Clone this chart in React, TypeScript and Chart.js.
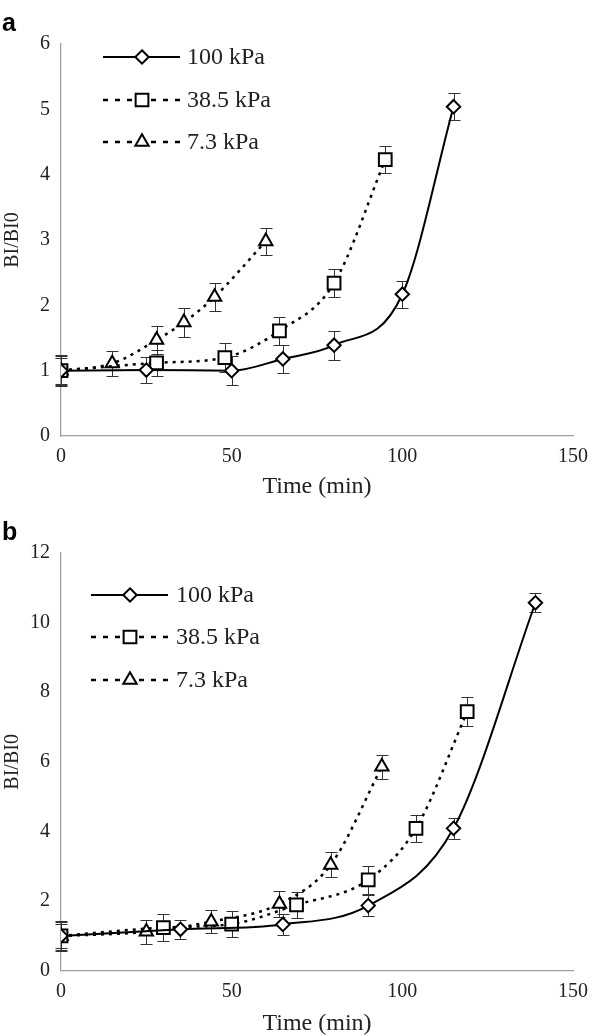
import React, { useEffect, useRef } from 'react';
import { Chart, registerables } from 'chart.js';

Chart.register(...registerables);

// ---------- data ----------
const seriesLabels = ['100 kPa', '38.5 kPa', '7.3 kPa'];
const xAxisTitle = 'Time (min)';
const yAxisTitle = 'BI/BI0';

// Panel a
const a100Time = [0, 25, 50, 65, 80, 100, 115];
const a100Value = [1.0, 1.01, 1.0, 1.18, 1.39, 2.17, 5.04];
const a100Error = [0.24, 0.2, 0.22, 0.21, 0.22, 0.21, 0.21];

const a385Time = [0, 28, 48, 64, 80, 95];
const a385Value = [1.0, 1.12, 1.2, 1.61, 2.34, 4.23];
const a385Error = [0.22, 0.2, 0.22, 0.21, 0.22, 0.21];

const a73Time = [0, 15, 28, 36, 45, 60];
const a73Value = [1.0, 1.11, 1.47, 1.74, 2.13, 2.98];
const a73Error = [0.2, 0.19, 0.22, 0.22, 0.21, 0.21];

// Panel b
const b100Time = [0, 35, 65, 90, 115, 139];
const b100Value = [1.0, 1.19, 1.33, 1.87, 4.09, 10.57];
const b100Error = [0.42, 0.27, 0.3, 0.3, 0.3, 0.27];

const b385Time = [0, 30, 50, 69, 90, 104, 119];
const b385Value = [1.0, 1.24, 1.34, 1.89, 2.61, 4.09, 7.44];
const b385Error = [0.4, 0.39, 0.38, 0.38, 0.4, 0.38, 0.41];

const b73Time = [0, 25, 44, 64, 79, 94];
const b73Value = [1.0, 1.12, 1.41, 1.92, 3.04, 5.86];
const b73Error = [0.35, 0.35, 0.34, 0.37, 0.36, 0.35];

const xMax = 150;
const xStep = 50;

// ---------- styling ----------
const SERIF = "'Liberation Serif', 'Times New Roman', serif";
const SANS = "'Liberation Sans', Arial, sans-serif";
const TEXT = '#222222';
const AXIS = '#a0a0a0';

const W = 597;
const H = 518;

const toPoints = (t: number[], v: number[]) => t.map((x, i) => ({ x, y: v[i] }));

function drawMarker(ctx: CanvasRenderingContext2D, style: string, x: number, y: number, r: number) {
  ctx.beginPath();
  if (style === 'rectRot') {
    ctx.moveTo(x, y - r);
    ctx.lineTo(x + r, y);
    ctx.lineTo(x, y + r);
    ctx.lineTo(x - r, y);
    ctx.closePath();
  } else if (style === 'rect') {
    const s = r * Math.SQRT1_2;
    ctx.rect(x - s, y - s, 2 * s, 2 * s);
  } else {
    const a = (2 * Math.PI) / 3;
    ctx.moveTo(x, y - r);
    ctx.lineTo(x + r * Math.sin(a), y - r * Math.cos(a));
    ctx.lineTo(x - r * Math.sin(a), y - r * Math.cos(a));
    ctx.closePath();
  }
  ctx.fillStyle = '#ffffff';
  ctx.fill();
  ctx.lineWidth = 2;
  ctx.setLineDash([]);
  ctx.strokeStyle = '#000000';
  ctx.stroke();
}

const errorBarPlugin = {
  id: 'errorBars',
  beforeDatasetsDraw(chart: any) {
    const { ctx } = chart;
    const xs = chart.scales.x;
    const ys = chart.scales.y;
    chart.data.datasets.forEach((ds: any) => {
      const errs: number[] = ds.errors;
      if (!errs) return;
      ctx.save();
      ctx.strokeStyle = '#333333';
      ctx.lineWidth = 1;
      ctx.setLineDash([]);
      ds.data.forEach((p: any, i: number) => {
        const x = Math.round(xs.getPixelForValue(p.x)) + 0.5;
        const y1 = Math.round(ys.getPixelForValue(p.y - errs[i])) + 0.5;
        const y2 = Math.round(ys.getPixelForValue(p.y + errs[i])) + 0.5;
        ctx.beginPath();
        ctx.moveTo(x, y1);
        ctx.lineTo(x, y2);
        ctx.moveTo(x - 6, y1);
        ctx.lineTo(x + 6, y1);
        ctx.moveTo(x - 6, y2);
        ctx.lineTo(x + 6, y2);
        ctx.stroke();
      });
      ctx.restore();
    });
  },
};

const decorPlugin = {
  id: 'decor',
  afterDraw(chart: any) {
    const opts = chart.options.plugins.decor;
    if (!opts) return;
    const { ctx } = chart;
    ctx.save();
    // panel letter
    ctx.fillStyle = '#000000';
    ctx.font = `bold 25px ${SANS}`;
    ctx.textAlign = 'left';
    ctx.textBaseline = 'alphabetic';
    ctx.fillText(opts.letter, 2, opts.letterBaseline);
    // legend
    const lg = opts.legend;
    chart.data.datasets.forEach((ds: any, i: number) => {
      const y = lg.rows[i];
      ctx.beginPath();
      ctx.strokeStyle = '#000000';
      ctx.lineWidth = ds.borderWidth;
      ctx.setLineDash(ds.borderDash && ds.borderDash.length ? [5, 7] : []);
      ctx.moveTo(lg.x0, y);
      ctx.lineTo(lg.x1, y);
      ctx.stroke();
      ctx.setLineDash([]);
      drawMarker(ctx, ds.pointStyle, lg.xm, y, ds.pointRadius);
      ctx.fillStyle = TEXT;
      ctx.font = `24px ${SERIF}`;
      ctx.textAlign = 'left';
      ctx.textBaseline = 'middle';
      ctx.fillText(ds.label, lg.xt, y + 1);
    });
    ctx.restore();
  },
};

type PanelCfg = {
  letter: string;
  letterBaseline: number;
  yMax: number;
  yStep: number;
  padTop: number;
  xAxisHeight: number;
  xTitlePad: number;
  legend: { x0: number; xm: number; x1: number; xt: number; rows: number[] };
  series: { t: number[]; v: number[]; e: number[] }[];
};

const panels: PanelCfg[] = [
  {
    letter: 'a',
    letterBaseline: 31,
    yMax: 6,
    yStep: 1,
    padTop: 44,
    xAxisHeight: 82,
    xTitlePad: 19,
    legend: { x0: 103, xm: 142, x1: 180, xt: 187, rows: [57, 100, 142] },
    series: [
      { t: a100Time, v: a100Value, e: a100Error },
      { t: a385Time, v: a385Value, e: a385Error },
      { t: a73Time, v: a73Value, e: a73Error },
    ],
  },
  {
    letter: 'b',
    letterBaseline: 22,
    yMax: 12,
    yStep: 2,
    padTop: 35,
    xAxisHeight: 65.3,
    xTitlePad: 0.7,
    legend: { x0: 91, xm: 130, x1: 168, xt: 176, rows: [77, 119, 162] },
    series: [
      { t: b100Time, v: b100Value, e: b100Error },
      { t: b385Time, v: b385Value, e: b385Error },
      { t: b73Time, v: b73Value, e: b73Error },
    ],
  },
];

const seriesStyles = [
  { pointStyle: 'rectRot', pointRadius: 6.7, borderDash: [] as number[], borderWidth: 2 },
  { pointStyle: 'rect', pointRadius: 9, borderDash: [3, 5], borderWidth: 2.5 },
  { pointStyle: 'triangle', pointRadius: 7.7, borderDash: [3, 5], borderWidth: 2.5 },
];

function Panel({ cfg }: { cfg: PanelCfg }) {
  const ref = useRef<HTMLCanvasElement | null>(null);
  useEffect(() => {
    if (!ref.current) return;
    const datasets = cfg.series.map((s, i) => ({
      label: seriesLabels[i],
      data: toPoints(s.t, s.v),
      errors: s.e,
      showLine: true,
      borderColor: '#000000',
      backgroundColor: '#ffffff',
      borderWidth: seriesStyles[i].borderWidth,
      borderDash: seriesStyles[i].borderDash,
      borderCapStyle: 'butt',
      pointStyle: seriesStyles[i].pointStyle,
      pointRadius: seriesStyles[i].pointRadius,
      pointBorderWidth: 2,
      pointBorderColor: '#000000',
      pointBackgroundColor: '#ffffff',
      cubicInterpolationMode: 'monotone',
      tension: 0.4,
      fill: false,
    }));
    const chart = new Chart(ref.current, {
      type: 'scatter',
      data: { datasets } as any,
      options: {
        responsive: false,
        animation: false,
        events: [],
        layout: { padding: { left: 0, right: W - 578.5, top: cfg.padTop, bottom: 0 } },
        plugins: {
          legend: { display: false },
          tooltip: { enabled: false },
          decor: { letter: cfg.letter, letterBaseline: cfg.letterBaseline, legend: cfg.legend },
        } as any,
        scales: {
          x: {
            type: 'linear',
            min: 0,
            max: xMax,
            grid: { display: false, drawTicks: false },
            border: { display: true, color: AXIS, width: 1.3 },
            ticks: {
              stepSize: xStep,
              padding: 9,
              color: TEXT,
              font: { family: SERIF, size: 20 },
              maxRotation: 0,
            },
            title: {
              display: true,
              text: xAxisTitle,
              color: TEXT,
              font: { family: SERIF, size: 24, lineHeight: 1 },
              padding: { top: 0, bottom: cfg.xTitlePad },
            },
            afterFit: (scale: any) => {
              scale.height = cfg.xAxisHeight;
            },
          },
          y: {
            type: 'linear',
            min: 0,
            max: cfg.yMax,
            grid: { display: false, drawTicks: false },
            border: { display: true, color: AXIS, width: 1.3 },
            ticks: {
              stepSize: cfg.yStep,
              padding: 11,
              color: TEXT,
              font: { family: SERIF, size: 20 },
            },
            title: {
              display: true,
              text: yAxisTitle,
              color: TEXT,
              font: { family: SERIF, size: 20, lineHeight: 1 },
              padding: { top: 3, bottom: 0 },
            },
            afterFit: (scale: any) => {
              scale.width = 61;
            },
          },
        },
      } as any,
      plugins: [errorBarPlugin, decorPlugin],
    });
    return () => chart.destroy();
  }, [cfg]);
  return <canvas ref={ref} width={W} height={H} style={{ display: 'block', width: W, height: H }} />;
}

export default function App() {
  useEffect(() => {
    document.body.style.margin = '0';
    document.body.style.background = '#ffffff';
  }, []);
  return (
    <div style={{ width: W, background: '#ffffff' }}>
      {panels.map((p) => (
        <Panel key={p.letter} cfg={p} />
      ))}
    </div>
  );
}
